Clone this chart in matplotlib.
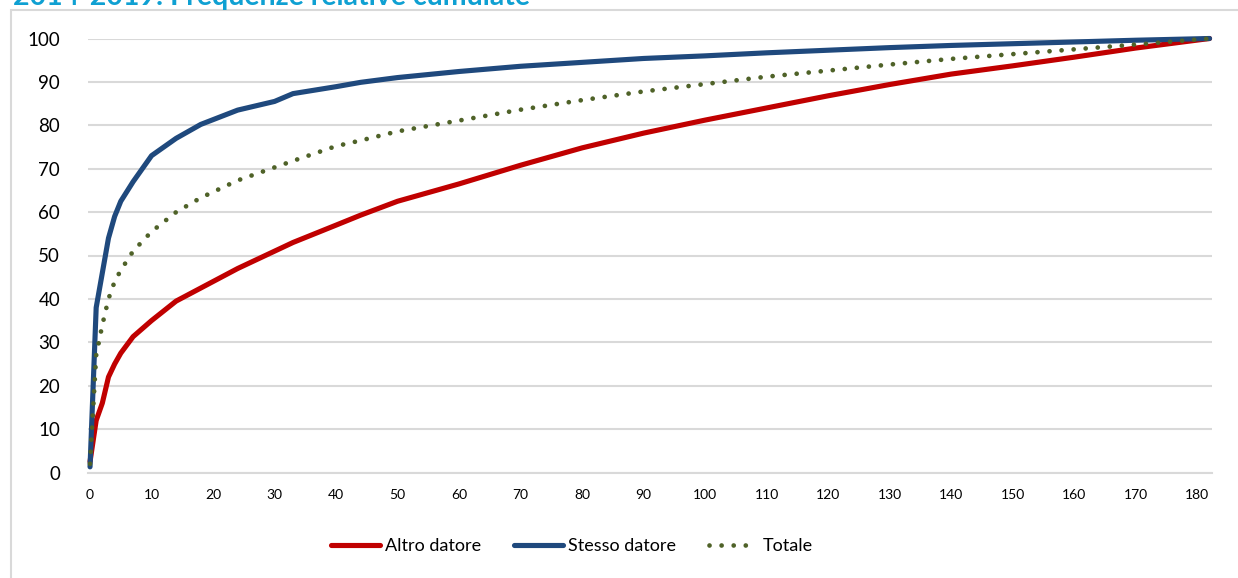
import matplotlib.pyplot as plt
from matplotlib.patches import Rectangle

# Cumulative relative frequencies (%)
days = [0, 1, 2, 3, 4, 5, 7, 10, 14, 18, 24, 30, 33, 40, 44, 50, 60, 70,
        80, 90, 100, 110, 120, 130, 140, 150, 160, 170, 182]
altro = [2.5, 12, 16, 22, 25, 27.5, 31.3, 35, 39.5, 42.5, 47, 51, 53, 57,
         59.3, 62.5, 66.5, 70.8, 74.8, 78.2, 81.2, 84.0, 86.8, 89.4, 91.8,
         93.7, 95.7, 97.8, 100]
stesso = [1.3, 38, 46, 54, 59, 62.5, 67, 73, 77, 80.2, 83.5, 85.5, 87.3,
          88.9, 89.9, 91, 92.4, 93.6, 94.5, 95.4, 96, 96.7, 97.3, 97.9, 98.4,
          98.8, 99.2, 99.6, 100]
totale = [2, 27, 34, 40, 44, 46.6, 51, 55.5, 60, 63.3, 67.3, 70.3, 71.8,
          75.2, 76.5, 78.6, 81.1, 83.6, 85.8, 87.8, 89.5, 91.2, 92.6, 94,
          95.3, 96.4, 97.5, 98.6, 100]

series_labels = ['Altro datore', 'Stesso datore', 'Totale']
x_ticks = list(range(0, 181, 10))
y_ticks = list(range(0, 101, 10))

plt.rcParams['font.family'] = ['Lato', 'DejaVu Sans']

W, H = 1238, 578
fig = plt.figure(figsize=(W / 100, H / 100), dpi=100)

# chart frame and the title, cut at the top as in the source
fig.patches.append(Rectangle((11 / W, -0.1), 1.2, 1 - 10.5 / H + 0.1,
                             transform=fig.transFigure, fill=False,
                             edgecolor='#D9D9D9', linewidth=1.5))
fig.text(13 / W, 1 - 5 / H, '2014-2019: Frequenze relative cumulate',
         color='#0FA0D2', fontsize=20.5, fontweight='bold', va='baseline')

ax = fig.add_axes([88 / W, 105.5 / H, (1212 - 88) / W, 434 / H])

ax.plot(days, altro, color='#C00000', linewidth=3.7, label=series_labels[0],
        clip_on=False, solid_capstyle='round', zorder=3)
ax.plot(days, stesso, color='#1F497D', linewidth=3.7, label=series_labels[1],
        clip_on=False, solid_capstyle='round', zorder=4)
ax.plot(days, totale, color='#4F6228', linewidth=3.4, label=series_labels[2],
        linestyle=(0, (0.01, 2.55)), dash_capstyle='round',
        clip_on=False, zorder=5)

ax.set_xlim(-0.33, 182.4)
ax.set_ylim(0, 100)
ax.set_xticks(x_ticks)
ax.set_yticks(y_ticks)
ax.tick_params(axis='both', length=0)
ax.tick_params(axis='y', labelsize=13.5, pad=20)
ax.tick_params(axis='x', labelsize=10, pad=12)
ax.grid(axis='y', color='#D9D9D9', linewidth=1.5)
ax.set_axisbelow(True)
for side in ['left', 'right', 'top']:
    ax.spines[side].set_visible(False)
ax.spines['bottom'].set_color('#D9D9D9')
ax.spines['bottom'].set_linewidth(1.5)

fig.legend(loc='center', bbox_to_anchor=(572 / W, 1 - 546 / H),
           ncol=3, frameon=False, fontsize=13, handlelength=2.7,
           handletextpad=0.3, columnspacing=1.8)

plt.savefig('out.png', dpi=100)
